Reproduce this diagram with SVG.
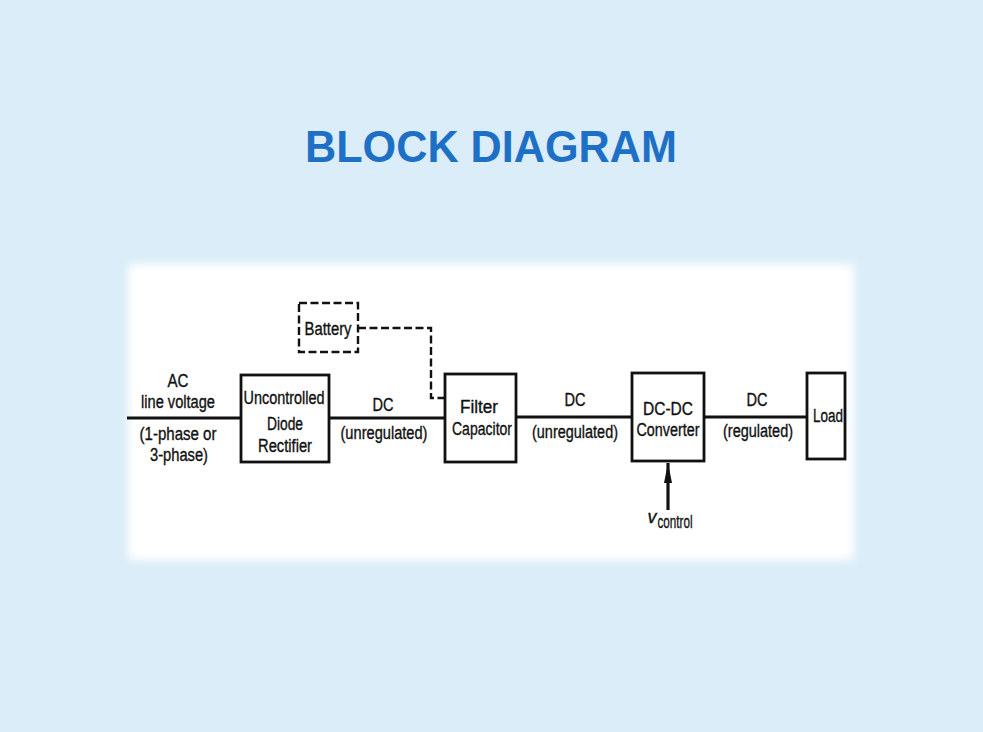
<svg xmlns="http://www.w3.org/2000/svg" width="983" height="732" viewBox="0 0 983 732">
  <defs>
    <filter id="soft" x="-5%" y="-5%" width="110%" height="110%">
      <feGaussianBlur stdDeviation="4"/>
    </filter>
    <marker id="arrow" viewBox="0 0 20 8" refX="20" refY="4" markerWidth="20" markerHeight="8" markerUnits="userSpaceOnUse" orient="auto">
      <path d="M0,0 L20,4 L0,8 Z" fill="#111"/>
    </marker>
  </defs>
  <style>
    .box { fill: #fff; stroke: #111; stroke-width: 2.8; }
    .dash { fill: none; stroke: #111; stroke-width: 2.4; stroke-dasharray: 8 3.5; }
    .wire { fill: none; stroke: #111; stroke-width: 3.2; }
    .lbl { font-family: "Liberation Sans Narrow", "Liberation Sans", Arial, sans-serif; font-size: 18px; fill: #111; stroke: #111; stroke-width: 0.35; text-anchor: middle; }
    .title { font-family: "Liberation Sans", Arial, sans-serif; font-size: 44px; font-weight: bold; fill: #1E70C6; text-anchor: middle; }
  </style>
  <rect x="0" y="0" width="983" height="732" fill="#DAEDF8"/>
  <rect x="128" y="264" width="726" height="296" fill="#fff" filter="url(#soft)"/>
  <text class="title" x="491" y="162" textLength="372" lengthAdjust="spacingAndGlyphs">BLOCK DIAGRAM</text>

  <g id="connectors">
    <line class="wire" x1="127" y1="418" x2="241" y2="418"/>
    <line class="wire" x1="329" y1="418" x2="445" y2="418"/>
    <line class="wire" x1="516" y1="417" x2="632" y2="417"/>
    <line class="wire" x1="704" y1="417" x2="807" y2="417"/>
    <polyline class="dash" points="358,328 431,328 431,398 445,398"/>
    <line class="wire" x1="668" y1="510" x2="668" y2="463" stroke-width="2.4" marker-end="url(#arrow)"/>
  </g>

  <g id="ac-source">
    <text class="lbl" x="178" y="387" textLength="21" lengthAdjust="spacingAndGlyphs">AC</text>
    <text class="lbl" x="178" y="408" textLength="74" lengthAdjust="spacingAndGlyphs">line voltage</text>
    <text class="lbl" x="178" y="440" textLength="77" lengthAdjust="spacingAndGlyphs">(1-phase or</text>
    <text class="lbl" x="179" y="461" textLength="58" lengthAdjust="spacingAndGlyphs">3-phase)</text>
  </g>

  <g id="rectifier">
    <rect class="box" x="241" y="375" width="88" height="87"/>
    <text class="lbl" x="284" y="404" textLength="81" lengthAdjust="spacingAndGlyphs">Uncontrolled</text>
    <text class="lbl" x="285" y="430" textLength="36" lengthAdjust="spacingAndGlyphs">Diode</text>
    <text class="lbl" x="285" y="452" textLength="54" lengthAdjust="spacingAndGlyphs">Rectifier</text>
  </g>

  <g id="dc-unreg-1">
    <text class="lbl" x="383" y="411" textLength="21" lengthAdjust="spacingAndGlyphs">DC</text>
    <text class="lbl" x="384" y="439" textLength="87" lengthAdjust="spacingAndGlyphs">(unregulated)</text>
  </g>

  <g id="battery">
    <rect class="dash" x="299" y="303" width="59" height="49"/>
    <text class="lbl" x="328" y="335" textLength="47" lengthAdjust="spacingAndGlyphs">Battery</text>
  </g>

  <g id="filter-capacitor">
    <rect class="box" x="445" y="374" width="71" height="88"/>
    <text class="lbl" x="479" y="413" textLength="38" lengthAdjust="spacingAndGlyphs">Filter</text>
    <text class="lbl" x="482" y="435" textLength="60" lengthAdjust="spacingAndGlyphs">Capacitor</text>
  </g>

  <g id="dc-unreg-2">
    <text class="lbl" x="575" y="406" textLength="21" lengthAdjust="spacingAndGlyphs">DC</text>
    <text class="lbl" x="575" y="438" textLength="86" lengthAdjust="spacingAndGlyphs">(unregulated)</text>
  </g>

  <g id="dc-dc-converter">
    <rect class="box" x="632" y="373" width="72" height="88"/>
    <text class="lbl" x="668" y="415" textLength="50" lengthAdjust="spacingAndGlyphs">DC-DC</text>
    <text class="lbl" x="668" y="436" textLength="63" lengthAdjust="spacingAndGlyphs">Converter</text>
  </g>

  <g id="dc-reg">
    <text class="lbl" x="757" y="406" textLength="21" lengthAdjust="spacingAndGlyphs">DC</text>
    <text class="lbl" x="758" y="437" textLength="70" lengthAdjust="spacingAndGlyphs">(regulated)</text>
  </g>

  <g id="load">
    <rect class="box" x="807" y="373" width="38" height="86"/>
    <text class="lbl" x="828" y="422" textLength="30" lengthAdjust="spacingAndGlyphs">Load</text>
  </g>

  <g id="v-control">
    <text class="lbl" x="652" y="523" font-style="italic" font-family="Liberation Serif, serif" font-size="16" stroke-width="0.2">v</text>
    <text class="lbl" x="675" y="528" font-size="14" textLength="35" lengthAdjust="spacingAndGlyphs">control</text>
  </g>
</svg>
